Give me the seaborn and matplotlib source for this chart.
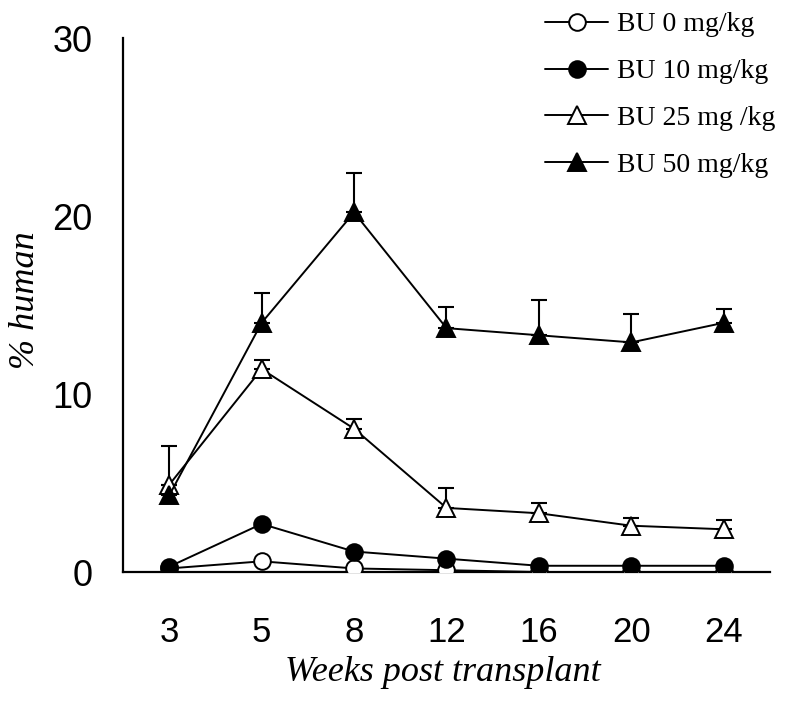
import matplotlib
matplotlib.use("Agg")
import matplotlib.pyplot as plt
import seaborn as sns
import numpy as np
import pandas as pd
from matplotlib.lines import Line2D

weeks = ["3", "5", "8", "12", "16", "20", "24"]
bu0 = [0.2, 0.6, 0.2, 0.1, 0.0, 0.0, 0.0]
bu10 = [0.3, 2.7, 1.15, 0.75, 0.35, 0.35, 0.35]
bu25 = [4.9, 11.4, 8.05, 3.6, 3.3, 2.6, 2.4]
bu25_err = [0.0, 0.5, 0.55, 1.1, 0.55, 0.45, 0.5]
bu50 = [4.3, 14.0, 20.2, 13.7, 13.3, 12.9, 14.0]
bu50_err = [2.8, 1.7, 2.2, 1.2, 2.0, 1.6, 0.8]
labels = ["BU 0 mg/kg", "BU 10 mg/kg", "BU 25 mg /kg", "BU 50 mg/kg"]

sns.set_theme(style="white")
plt.rcParams["font.family"] = ["Liberation Serif", "DejaVu Serif"]
plt.rcParams["text.color"] = "black"
plt.rcParams["axes.labelcolor"] = "black"
plt.rcParams["xtick.color"] = "black"
plt.rcParams["ytick.color"] = "black"

fig = plt.figure(figsize=(7.98, 7.07), dpi=100)
ax = fig.add_axes([123 / 798, 1 - 572 / 707, 647 / 798, 534 / 707])

pos = np.arange(len(weeks))
series = [
    (bu0, None, "o", "white", 12),
    (bu10, None, "o", "black", 12),
    (bu25, bu25_err, "^", "white", 13),
    (bu50, bu50_err, "^", "black", 13),
]
handles = []
for (vals, err, mk, fc, ms), lab in zip(series, labels):
    df = pd.DataFrame({"pos": pos, "val": vals})
    if err is not None:
        ax.errorbar(pos, vals, yerr=[np.zeros(len(vals)), err], fmt="none",
                    ecolor="black", elinewidth=1.5, capsize=5.8, capthick=1.5, zorder=2)
    sns.lineplot(data=df, x="pos", y="val", ax=ax, color="black", linewidth=1.4,
                 marker=mk, markersize=ms, markerfacecolor=fc,
                 markeredgecolor="black", markeredgewidth=1.4, zorder=3)
    handles.append(Line2D([0], [0], color="black", linewidth=1.4, marker=mk,
                          markersize=ms, markerfacecolor=fc,
                          markeredgecolor="black", markeredgewidth=1.4))

tick_font = ["Liberation Sans", "DejaVu Sans"]
ax.set_xlim(-0.5, 6.5)
ax.set_ylim(0, 30)
ax.set_yticks([0, 10, 20, 30])
ax.set_yticklabels(["0", "10", "20", "30"], family=tick_font, fontsize=26, color="black")
ax.set_xticks(pos)
ax.set_xticklabels(weeks, family=tick_font, fontsize=25, color="black")
ax.set_xticks(np.arange(-0.5, 7.0, 1.0), minor=True)
ax.tick_params(axis="x", which="major", length=0, pad=32)
ax.tick_params(axis="x", which="minor", length=10, width=1.5, direction="out", color="black")
ax.tick_params(axis="y", which="major", length=10.8, width=1.5, direction="out", color="black", pad=11)

for s in ["top", "right"]:
    ax.spines[s].set_visible(False)
for s in ["left", "bottom"]:
    ax.spines[s].set_color("black")
    ax.spines[s].set_linewidth(1.6)

ax.set_xlabel("Weeks post transplant", fontsize=26, style="italic", color="black")
ax.xaxis.set_label_coords(0.494, -0.158)
ax.set_ylabel("% human", fontsize=26, style="italic", color="black")
ax.yaxis.set_label_coords(-0.125, 0.51)

leg = fig.legend(handles, labels, loc="upper left", bbox_to_anchor=(545 / 798, 0.983),
                 frameon=False, fontsize=20, handlelength=2.27, labelspacing=0.77,
                 handletextpad=0.32, borderpad=0, borderaxespad=0)
for t in leg.get_texts():
    t.set_color("black")

fig.savefig("out.png", dpi=100)
